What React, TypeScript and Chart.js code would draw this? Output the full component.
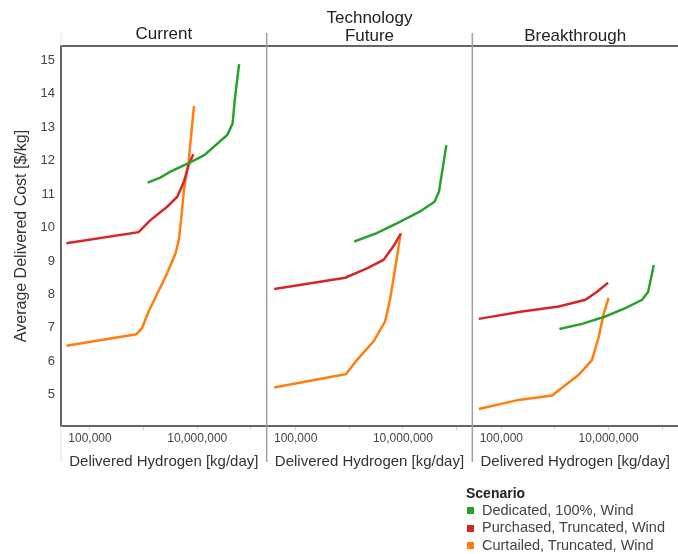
import React, { useEffect, useRef } from 'react';
import { Chart, registerables } from 'chart.js';

Chart.register(...registerables);

const FONT = '"Liberation Sans", Arial, Helvetica, sans-serif';

// Panels (technology cases)
const panelIds = ['x1', 'x2', 'x3'];
const panelTitles: (string | string[])[] = ['Current', ['Technology', 'Future'], 'Breakthrough'];

// Scenarios
const seriesNames = ['Dedicated, 100%, Wind', 'Purchased, Truncated, Wind', 'Curtailed, Truncated, Wind'];
const seriesColors = ['#2ca02c', '#d62728', '#ff7f0e'];

// Axis ticks
const yTicks = [5, 6, 7, 8, 9, 10, 11, 12, 13, 14, 15];
const xTickValues = [100000, 1000000, 10000000, 100000000];
const xTickLabels = ['100,000', '', '10,000,000', ''];

// ---- Current ----
const curDedicatedX = [1190000, 2040000, 3160000, 6920000, 13500000, 36300000, 45700000, 50100000, 60300000];
const curDedicatedY = [11.34, 11.49, 11.67, 11.92, 12.16, 12.76, 13.11, 13.81, 14.88];
const curPurchasedX = [36300, 805000, 1340000, 2750000, 4250000, 5650000, 6940000, 8450000];
const curPurchasedY = [9.53, 9.86, 10.22, 10.62, 10.92, 11.37, 11.87, 12.19];
const curCurtailedX = [36300, 728000, 932000, 1240000, 2750000, 3940000, 4540000, 5000000, 5650000, 6940000, 8700000];
const curCurtailedY = [6.47, 6.81, 6.99, 7.49, 8.63, 9.23, 9.63, 10.22, 11.12, 12.01, 13.63];

// ---- Technology Future ----
const futDedicatedX = [1240000, 3250000, 8780000, 20500000, 39000000, 47000000, 55700000, 64600000];
const futDedicatedY = [9.58, 9.83, 10.17, 10.47, 10.77, 11.07, 11.81, 12.46];
const futPurchasedX = [39800, 844000, 2130000, 4340000, 6600000, 9100000];
const futPurchasedY = [8.16, 8.5, 8.78, 9.03, 9.43, 9.81];
const futCurtailedX = [39800, 590000, 870000, 1380000, 2820000, 4650000, 5750000, 7600000, 9100000];
const futCurtailedY = [5.22, 5.57, 5.62, 6.04, 6.59, 7.19, 7.84, 9.03, 9.84];

// ---- Breakthrough ----
const brkDedicatedX = [1210000, 3200000, 8710000, 20500000, 42200000, 54700000, 69600000];
const brkDedicatedY = [6.97, 7.12, 7.34, 7.59, 7.84, 8.08, 8.88];
const brkPurchasedX = [38000, 243000, 1180000, 3690000, 6100000, 9770000];
const brkPurchasedY = [7.27, 7.49, 7.64, 7.84, 8.08, 8.35];
const brkCurtailedX = [38000, 210000, 885000, 2770000, 4900000, 6570000, 8170000, 10000000];
const brkCurtailedY = [4.58, 4.85, 4.98, 5.6, 6.04, 6.74, 7.44, 7.9];

const panelSeries = [
  [[curDedicatedX, curDedicatedY], [curPurchasedX, curPurchasedY], [curCurtailedX, curCurtailedY]],
  [[futDedicatedX, futDedicatedY], [futPurchasedX, futPurchasedY], [futCurtailedX, futCurtailedY]],
  [[brkDedicatedX, brkDedicatedY], [brkPurchasedX, brkPurchasedY], [brkCurtailedX, brkCurtailedY]],
];

const X_MIN = 28800;
const X_MAX = 197000000;
const Y_MIN = 4.07;
const Y_MAX = 15.42;

const dividerPlugin = {
  id: 'panelDividers',
  afterDraw(chart: any) {
    const ctx = chart.ctx;
    const { top, bottom } = chart.chartArea;
    ctx.save();
    ctx.lineWidth = 1.5;
    ctx.strokeStyle = '#a0a0a0';
    ['x2', 'x3'].forEach((id) => {
      const s = chart.scales[id];
      ctx.beginPath();
      ctx.moveTo(s.left, top - 13);
      ctx.lineTo(s.left, bottom + 36);
      ctx.stroke();
    });
    const s1 = chart.scales.x1;
    ctx.strokeStyle = '#e2e2e2';
    ctx.lineWidth = 1;
    ctx.beginPath();
    ctx.moveTo(s1.left, top - 13);
    ctx.lineTo(s1.left, top);
    ctx.moveTo(s1.left, bottom);
    ctx.lineTo(s1.left, bottom + 36);
    ctx.stroke();
    ctx.restore();
  },
};

export default function App() {
  const canvasRef = useRef<HTMLCanvasElement | null>(null);

  useEffect(() => {
    if (!canvasRef.current) return;
    Chart.defaults.font.family = FONT;

    const datasets: any[] = [];
    panelSeries.forEach((series, p) => {
      series.forEach(([xs, ys], s) => {
        datasets.push({
          label: seriesNames[s],
          data: xs.map((x, i) => ({ x, y: ys[i] })),
          xAxisID: panelIds[p],
          yAxisID: 'y',
          borderColor: seriesColors[s],
          backgroundColor: seriesColors[s],
          borderWidth: 2.5,
          pointRadius: 0,
          tension: 0,
          fill: false,
        });
      });
    });

    const scales: any = {
      y: {
        type: 'linear',
        position: 'left',
        min: Y_MIN,
        max: Y_MAX,
        afterBuildTicks: (s: any) => {
          s.ticks = yTicks.map((v) => ({ value: v }));
        },
        afterFit: (s: any) => {
          s.width = 61;
        },
        ticks: { font: { size: 13, family: FONT }, color: '#444', padding: 6 },
        grid: { display: true, drawOnChartArea: false, drawTicks: false },
        border: { display: true, color: '#666', width: 2 },
        title: {
          display: true,
          text: 'Average Delivered Cost [$/kg]',
          font: { size: 16, family: FONT },
          color: '#333',
          padding: { top: 12, bottom: 0 },
        },
      },
    };

    panelIds.forEach((id, p) => {
      scales[id] = {
        type: 'logarithmic',
        position: 'bottom',
        stack: 'bottomPanels',
        stackWeight: 1,
        min: X_MIN,
        max: X_MAX,
        afterBuildTicks: (s: any) => {
          s.ticks = xTickValues.map((v) => ({ value: v }));
        },
        afterFit: (s: any) => {
          s.height = 128;
        },
        ticks: {
          autoSkip: false,
          maxRotation: 0,
          font: { size: 12, family: FONT },
          color: '#444',
          padding: 1,
          callback: (v: any) => {
            const i = xTickValues.indexOf(Number(v));
            return i >= 0 ? xTickLabels[i] : '';
          },
        },
        grid: { display: true, drawOnChartArea: false, drawTicks: true, tickLength: 4, color: '#d0d0d0' },
        border: { display: true, color: '#666', width: 2 },
        title: {
          display: true,
          text: 'Delivered Hydrogen [kg/day]',
          font: { size: 15, family: FONT },
          color: '#333',
          padding: { top: 0, bottom: 83 },
        },
      };
      const multi = Array.isArray(panelTitles[p]);
      scales['t' + (p + 1)] = {
        type: 'linear',
        position: 'top',
        stack: 'topPanels',
        stackWeight: 1,
        weight: -p,
        afterFit: (s: any) => {
          s.height = 46;
        },
        ticks: { display: false },
        grid: { display: false },
        border: { display: true, color: '#666', width: 2 },
        title: {
          display: true,
          text: panelTitles[p],
          font: { size: 17, family: FONT, lineHeight: multi ? 1.05 : 1.2 },
          color: '#222',
          padding: { top: multi ? 9.4 : p === 0 ? 23.8 : 25.8, bottom: 0 },
        },
      };
    });

    const chart = new Chart(canvasRef.current, {
      type: 'line',
      data: { datasets },
      options: {
        animation: false,
        responsive: false,
        maintainAspectRatio: false,
        layout: { padding: 0 },
        plugins: {
          legend: { display: false },
          title: { display: false },
          tooltip: { enabled: false },
        },
        scales,
      },
      plugins: [dividerPlugin],
    });

    return () => {
      chart.destroy();
    };
  }, []);

  return (
    <div style={{ position: 'absolute', left: 0, top: 0, width: 678, height: 554, background: '#fff', fontFamily: FONT }}>
      <canvas ref={canvasRef} width={678} height={554} style={{ display: 'block', width: 678, height: 554 }} />
      <div style={{ position: 'absolute', left: 466, top: 484 }}>
        <div style={{ fontWeight: 'bold', fontSize: 14, lineHeight: '18px', color: '#222' }}>Scenario</div>
        {seriesNames.map((n, i) => (
          <div key={n} style={{ display: 'flex', alignItems: 'center', fontSize: 14.5, lineHeight: '17.4px', color: '#444', whiteSpace: 'nowrap' }}>
            <span style={{ display: 'inline-block', width: 7, height: 7, background: seriesColors[i], marginLeft: 1, marginRight: 8 }} />
            <span>{n}</span>
          </div>
        ))}
      </div>
    </div>
  );
}
